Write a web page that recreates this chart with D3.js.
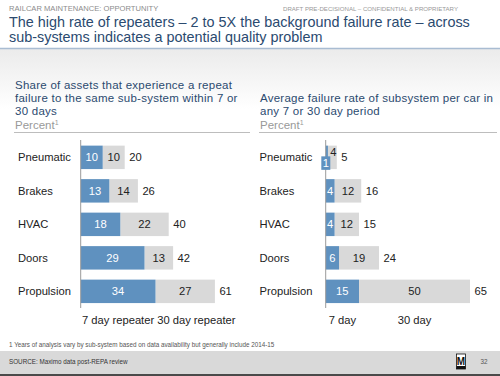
<!DOCTYPE html>
<html>
<head>
<meta charset="utf-8">
<script src="https://cdn.jsdelivr.net/npm/d3@7"></script>
<style>
  body { margin: 0; background: #fff; }
  svg { display: block; font-family: "Liberation Sans", Arial, sans-serif; }
</style>
</head>
<body>
<div id="chart"></div>
<script>
// chart data
const categories = ["Pneumatic", "Brakes", "HVAC", "Doors", "Propulsion"];
const repeat7 = [10, 13, 18, 29, 34];
const repeat30 = [10, 14, 22, 13, 27];
const repeatTotal = [20, 26, 40, 42, 61];
const rate7 = [1, 4, 4, 6, 15];
const rate30 = [4, 12, 12, 19, 50];
const rateTotal = [5, 16, 15, 24, 65];
const leftLegend = ["7 day repeater", "30 day repeater"];
const rightLegend = ["7 day", "30 day"];

const width = 500;
const height = 376;

const blue = "#5f91bf";
const grey = "#d9d9d9";
const titleBlue = "#2b4a6f";

const svg = d3.select("#chart").append("svg")
  .attr("width", width)
  .attr("height", height);

// background gradient under the title
const defs = svg.append("defs");
const grad = defs.append("linearGradient")
  .attr("id", "bg").attr("x1", 0).attr("y1", 0).attr("x2", 0).attr("y2", 1);
grad.append("stop").attr("offset", "0%").attr("stop-color", "#ebebeb");
grad.append("stop").attr("offset", "100%").attr("stop-color", "#ffffff");

svg.append("rect").attr("x", 0).attr("y", 49).attr("width", width).attr("height", 60)
  .attr("fill", "url(#bg)");

// header
svg.append("text").attr("x", 9).attr("y", 10.5)
  .attr("font-size", 7.6).attr("fill", "#8c8c8c")
  .text("RAILCAR MAINTENANCE: OPPORTUNITY");

svg.append("text").attr("x", 283).attr("y", 10.5)
  .attr("font-size", 6.1).attr("fill", "#999")
  .text("DRAFT PRE-DECISIONAL \u2013 CONFIDENTIAL & PROPRIETARY");

const title = svg.append("text").attr("font-size", 14.4).attr("fill", titleBlue);
title.append("tspan").attr("x", 9).attr("y", 26.5)
  .text("The high rate of repeaters \u2013 2 to 5X the background failure rate \u2013 across");
title.append("tspan").attr("x", 9).attr("y", 42)
  .text("sub-systems indicates a potential quality problem");

svg.append("line").attr("x1", 0).attr("x2", width).attr("y1", 48.5).attr("y2", 48.5)
  .attr("stroke", "#a9bcd2").attr("stroke-width", 1.5);

// rows shared by both panels
const y = d3.scaleBand()
  .domain(categories)
  .range([140.6, 308.1])
  .paddingInner(0.3)
  .paddingOuter(0.15);

function drawPanel(opts) {
  const g = svg.append("g");
  const x = opts.x;
  const x0 = x(0);

  // subtitle
  const sub = g.append("text").attr("font-size", 11.5).attr("letter-spacing", 0.25)
    .attr("fill", titleBlue);
  opts.subtitle.forEach((line, i) => {
    sub.append("tspan").attr("x", opts.left).attr("y", opts.subTop + i * 13).text(line);
  });
  const pct = g.append("text").attr("x", opts.left).attr("y", 129)
    .attr("font-size", 11.5).attr("fill", "#999").text("Percent");
  pct.append("tspan").attr("font-size", 7).attr("dy", -4).text("1");

  g.append("line").attr("x1", opts.left - 1).attr("x2", opts.right)
    .attr("y1", 132.5).attr("y2", 132.5)
    .attr("stroke", "#bdbdbd").attr("stroke-width", 1.2);

  // category labels
  g.selectAll(".cat").data(categories).enter().append("text")
    .attr("x", opts.catLeft)
    .attr("y", d => y(d) + y.bandwidth() / 2)
    .attr("dy", "0.35em")
    .attr("font-size", 11.2).attr("fill", "#222")
    .text(d => d);

  const rows = categories.map((c, i) => ({
    cat: c, a: opts.a[i], b: opts.b[i], total: opts.total[i]
  }));

  // grey segment first (runs to the total)
  g.selectAll(".seg30").data(rows).enter().append("rect")
    .attr("x", d => x(d.a))
    .attr("y", d => y(d.cat))
    .attr("width", d => x(d.total) - x(d.a))
    .attr("height", y.bandwidth())
    .attr("fill", grey);

  g.selectAll(".seg7").data(rows).enter().append("rect")
    .attr("x", x0)
    .attr("y", d => y(d.cat))
    .attr("width", d => x(d.a) - x0)
    .attr("height", y.bandwidth())
    .attr("fill", blue);

  // axis line
  g.append("line").attr("x1", x0).attr("x2", x0).attr("y1", 140).attr("y2", 308)
    .attr("stroke", "#9a9a9a").attr("stroke-width", 1);

  // segment labels
  rows.forEach(d => {
    const cy = y(d.cat) + y.bandwidth() / 2;
    const narrow = x(d.a) - x0 < 5;
    if (narrow) {
      // too thin: blue label drops into a little box, grey label moves up
      const bx = (x0 + x(d.a)) / 2;
      g.append("rect").attr("x", bx - 5.5).attr("y", cy - 1).attr("width", 9).attr("height", 13.5)
        .attr("fill", blue);
      g.append("text").attr("x", bx - 1).attr("y", cy + 5.8).attr("dy", "0.35em")
        .attr("text-anchor", "middle").attr("font-size", 11.2).attr("fill", "#fff")
        .text(d.a);
      g.append("text").attr("x", (x(d.a) + x(d.total)) / 2 + 1).attr("y", cy - 5.5)
        .attr("dy", "0.35em").attr("text-anchor", "middle")
        .attr("font-size", 11.2).attr("fill", "#222").text(d.b);
    } else {
      g.append("text").attr("x", (x0 + x(d.a)) / 2).attr("y", cy).attr("dy", "0.35em")
        .attr("text-anchor", "middle").attr("font-size", 11.2).attr("fill", "#fff")
        .text(d.a);
      g.append("text").attr("x", (x(d.a) + x(d.total)) / 2).attr("y", cy).attr("dy", "0.35em")
        .attr("text-anchor", "middle").attr("font-size", 11.2).attr("fill", "#222")
        .text(d.b);
    }
    g.append("text").attr("x", x(d.total) + 4.5).attr("y", cy).attr("dy", "0.35em")
      .attr("font-size", 11.2).attr("fill", "#222").text(d.total);
  });

  // legend under the last row, centred under its segments, pushed right on overlap
  const last = rows[rows.length - 1];
  const centres = [(x0 + x(last.a)) / 2, (x(last.a) + x(last.total)) / 2];
  let prevEnd = -Infinity;
  opts.legend.forEach((label, i) => {
    const t = g.append("text").attr("y", 324).attr("font-size", 11.2).attr("fill", "#222")
      .text(label);
    const w = t.node().getComputedTextLength();
    let start = centres[i] - w / 2;
    if (start < prevEnd + 3) start = prevEnd + 3;
    t.attr("x", start);
    prevEnd = start + w;
  });
}

drawPanel({
  x: d3.scaleLinear().domain([0, 70]).range([80.7, 80.7 + 70 * 2.2]),
  a: repeat7, b: repeat30, total: repeatTotal,
  left: 15, right: 250, subTop: 89, catLeft: 18,
  subtitle: ["Share of assets that experience a repeat",
             "failure to the same sub-system within 7 or",
             "30 days"],
  legend: leftLegend
});

drawPanel({
  x: d3.scaleLinear().domain([0, 70]).range([325.7, 325.7 + 70 * 2.22]),
  a: rate7, b: rate30, total: rateTotal,
  left: 260, right: 497, subTop: 102, catLeft: 259.5,
  subtitle: ["Average failure rate of subsystem per car in",
             "any 7 or 30 day period"],
  legend: rightLegend
});

// footnote
svg.append("text").attr("x", 9).attr("y", 347)
  .attr("font-size", 6.3).attr("fill", "#555")
  .text("1 Years of analysis vary by sub-system based on data availability but generally include 2014-15");

// footer band
svg.append("rect").attr("x", 0).attr("y", 351).attr("width", width).attr("height", 23)
  .attr("fill", "#d9d9d9");
svg.append("rect").attr("x", 0).attr("y", 374).attr("width", width).attr("height", 2)
  .attr("fill", "#4a4a4a");
svg.append("text").attr("x", 9).attr("y", 364)
  .attr("font-size", 6.3).attr("fill", "#333")
  .text("SOURCE: Maximo data post-REPA review");

// logo
svg.append("rect").attr("x", 456.5).attr("y", 354).attr("width", 9).attr("height", 15)
  .attr("fill", "#fff").attr("stroke", "#111").attr("stroke-width", 0.8);
svg.append("text").attr("x", 461).attr("y", 364.5).attr("text-anchor", "middle")
  .attr("font-size", 10).attr("font-weight", "bold").attr("fill", "#111").text("M");
svg.append("rect").attr("x", 456.5).attr("y", 366).attr("width", 9).attr("height", 3)
  .attr("fill", "#111");
svg.append("text").attr("x", 480.5).attr("y", 364)
  .attr("font-size", 6.3).attr("fill", "#555").text("32");
</script>
</body>
</html>
